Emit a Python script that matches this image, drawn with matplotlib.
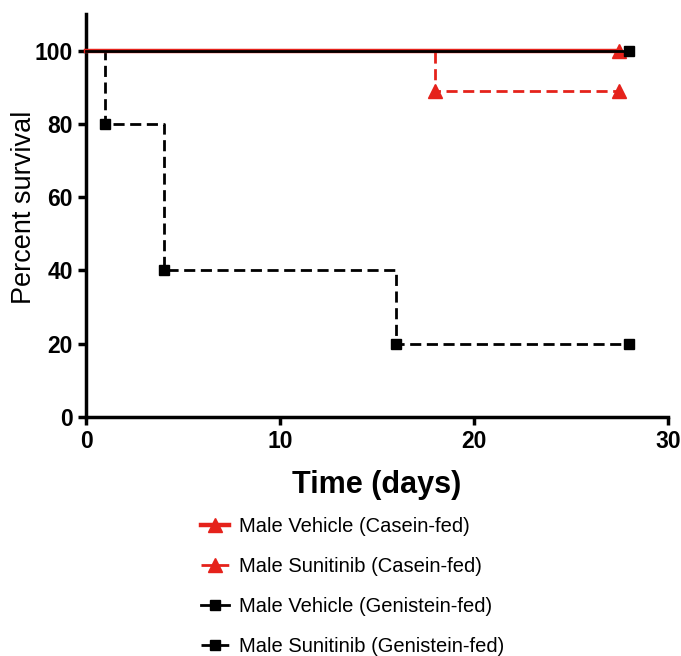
import matplotlib.pyplot as plt

plt.rcParams['font.family'] = ['Liberation Sans', 'DejaVu Sans']

# Kaplan-Meier survival data (days, percent survival)
veh_casein_t = [0, 27.5]
veh_casein_s = [100, 100]
sun_casein_t = [0, 18, 27.5]
sun_casein_s = [100, 88.9, 88.9]
veh_gen_t = [0, 28]
veh_gen_s = [100, 100]
sun_gen_t = [0, 1, 4, 16, 28]
sun_gen_s = [100, 80, 40, 20, 20]

labels = ["Male Vehicle (Casein-fed)", "Male Sunitinib (Casein-fed)",
          "Male Vehicle (Genistein-fed)", "Male Sunitinib (Genistein-fed)"]

red = '#e5221b'

fig = plt.figure(figsize=(6.81, 6.56), dpi=100)
ax = fig.add_axes([0.1263, 0.3643, 0.8546, 0.6144])

ax.step(veh_casein_t, veh_casein_s, where='post', color=red, lw=3.2, ls='-',
        marker='^', ms=10, markevery=[1], clip_on=False, label=labels[0], zorder=3)
ax.step(sun_casein_t, sun_casein_s, where='post', color=red, lw=2, ls=(0, (4, 2)),
        marker='^', ms=10, markevery=[1, 2], clip_on=False, label=labels[1], zorder=2)
ax.step(veh_gen_t, veh_gen_s, where='post', color='black', lw=2,
        marker='s', ms=7, markevery=[1], clip_on=False, label=labels[2], zorder=4)
ax.step(sun_gen_t, sun_gen_s, where='post', color='black', lw=2, ls=(0, (4, 2)),
        marker='s', ms=7, markevery=[1, 2, 3, 4], clip_on=False, label=labels[3], zorder=2)

ax.set_xlim(0, 30)
ax.set_ylim(0, 110)
ax.set_xticks([0, 10, 20, 30])
ax.set_yticks([0, 20, 40, 60, 80, 100])
for s in ['top', 'right']:
    ax.spines[s].set_visible(False)
for s in ['left', 'bottom']:
    ax.spines[s].set_linewidth(2.5)
ax.tick_params(width=2.5, length=6, labelsize=16.5)
for t in ax.get_xticklabels() + ax.get_yticklabels():
    t.set_fontweight('bold')

ax.set_xlabel("Time (days)", fontsize=22, fontweight='bold', labelpad=12)
ax.set_ylabel("Percent survival", fontsize=19.5)
ax.yaxis.set_label_coords(-0.085, 0.52)

fig.legend(loc='upper left', bbox_to_anchor=(0.295, 0.212), frameon=False,
           fontsize=14.5, handlelength=1.4, handletextpad=0.5, labelspacing=1.05,
           borderpad=0, borderaxespad=0)

fig.savefig('out.png', dpi=100, facecolor='white')
